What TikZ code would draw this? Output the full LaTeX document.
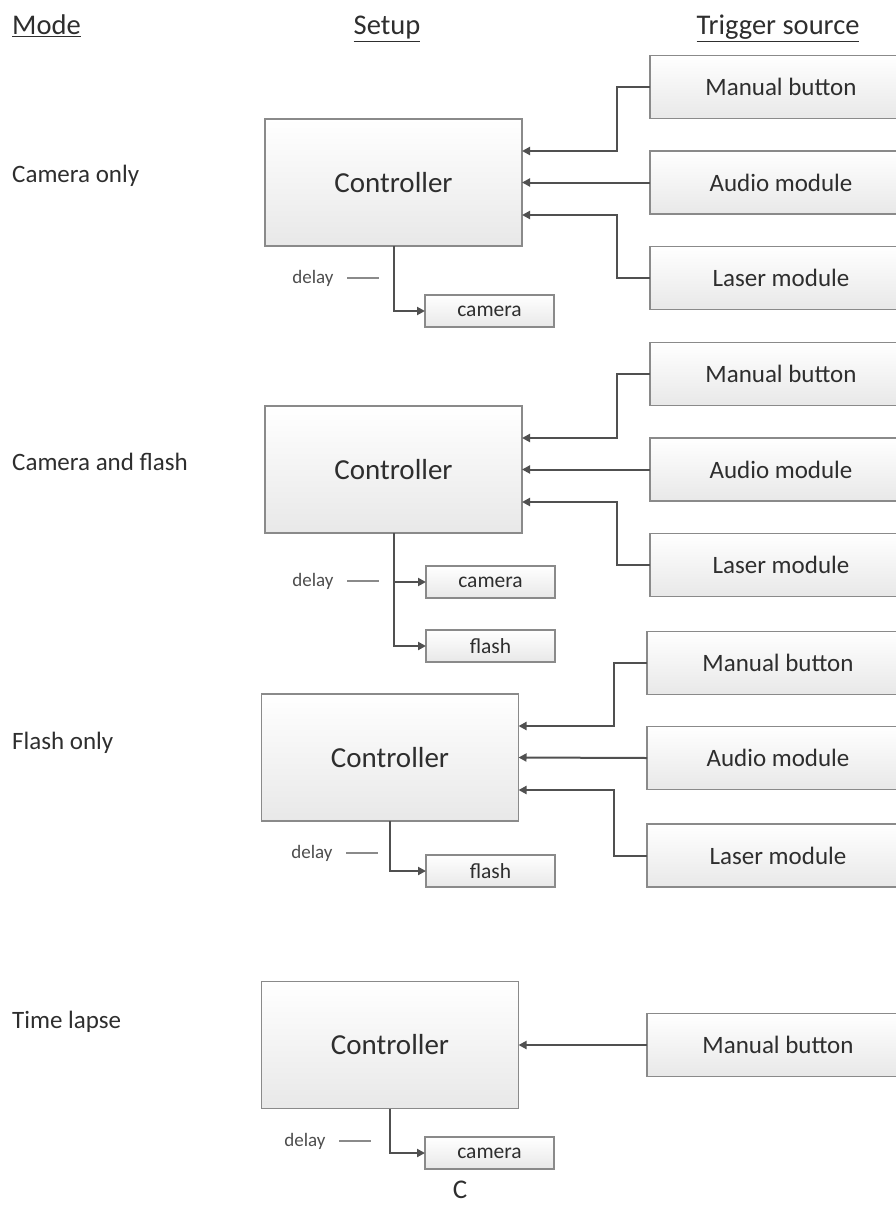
\documentclass[tikz,border=0pt]{standalone}
\usepackage{fontspec}
\setmainfont{Carlito}
\usetikzlibrary{arrows.meta,calc}
\definecolor{txt}{HTML}{2E2E2E}
\definecolor{edge}{HTML}{8A8A8A}
\definecolor{wire}{HTML}{505050}
\tikzset{
  every node/.style={text=txt},
  ctrlbox/.style={draw=edge, line width=1.2pt, top color=white, bottom color=black!9,
    minimum width=257pt, minimum height=127pt, inner sep=0pt, outer sep=0pt, font=\fontsize{29}{32}\selectfont},
  trigbox/.style={draw=edge, line width=1.2pt, top color=white, bottom color=black!9,
    minimum width=262pt, minimum height=63pt, inner sep=0pt, outer sep=0pt, anchor=west,
    font=\fontsize{25}{29}\selectfont},
  outbox/.style={draw=edge, line width=1.2pt, top color=white, bottom color=black!9,
    minimum width=129pt, minimum height=32pt, inner sep=0pt, outer sep=0pt, anchor=west,
    font=\fontsize{21.5}{24}\selectfont},
  modelbl/.style={anchor=base west, inner sep=0pt, font=\fontsize{25}{28}\selectfont},
  headlbl/.style={anchor=base, inner sep=0pt, font=\fontsize{28.5}{31}\selectfont},
  delaylbl/.style={font=\fontsize{19}{22}\selectfont, text=txt!85},
  conn/.style={draw=wire, line width=2pt, -{Triangle[length=8pt,width=8pt]}},
  dashl/.style={draw=edge, line width=1.2pt},
}
\begin{document}
\begin{tikzpicture}[x=1pt,y=-1pt]
\useasboundingbox (0,0) rectangle (896,1207);
\clip (0,0) rectangle (896,1207);
% headers
\node[headlbl, anchor=base west] (hmode) at (12,35) {\underline{Mode}};
\node[headlbl] (hsetup) at (387,35) {\underline{Setup}};
\node[headlbl] (htrig) at (778,35) {\underline{Trigger source}};
% mode labels
\node[modelbl] (mode1) at (12,182) {Camera only};
\node[modelbl] (mode2) at (12,470) {Camera and flash};
\node[modelbl] (mode3) at (12,749) {Flash only};
\node[modelbl] (mode4) at (12,1028) {Time lapse};

% ---------- Section 1 ----------
\node[ctrlbox] (c1) at (393.5,182.5) {Controller};
\node[trigbox] (m1) at (650,87) {Manual button};
\node[trigbox] (a1) at (650,182.5) {Audio module};
\node[trigbox] (l1) at (650,278) {Laser module};
\draw[conn] (m1.west) -- ++(-33,0) |- ([yshift=31.5pt]c1.east);
\draw[conn] (a1.west) -- (c1.east);
\draw[conn] (l1.west) -- ++(-33,0) |- ([yshift=-32.5pt]c1.east);
\node[outbox] (o1) at (425,311) {camera};
\draw[conn] (c1.south) |- (o1.west);
\node[delaylbl] (d1) at (313,278) {delay};
\draw[dashl] ([xshift=10pt]d1.east) -- ++(32,0);

% ---------- Section 2 ----------
\node[ctrlbox] (c2) at (393.5,469.5) {Controller};
\node[trigbox] (m2) at (650,374) {Manual button};
\node[trigbox] (a2) at (650,469.5) {Audio module};
\node[trigbox] (l2) at (650,565) {Laser module};
\draw[conn] (m2.west) -- ++(-33,0) |- ([yshift=31.5pt]c2.east);
\draw[conn] (a2.west) -- (c2.east);
\draw[conn] (l2.west) -- ++(-33,0) |- ([yshift=-32.5pt]c2.east);
\node[outbox] (o2a) at (426,582) {camera};
\node[outbox] (o2b) at (426,646) {flash};
\draw[conn] (c2.south) |- (o2a.west);
\draw[conn] (c2.south) |- (o2b.west);
\node[delaylbl] (d2) at (313,581) {delay};
\draw[dashl] ([xshift=10pt]d2.east) -- ++(32,0);

% ---------- Section 3 ----------
\node[ctrlbox] (c3) at (390,757.5) {Controller};
\node[trigbox] (m3) at (647,663) {Manual button};
\node[trigbox] (a3) at (647,758) {Audio module};
\node[trigbox] (l3) at (647,855.5) {Laser module};
\draw[conn] (m3.west) -- ++(-33,0) |- ([yshift=31.5pt]c3.east);
\draw[conn] (a3.west) -- (c3.east);
\draw[conn] (l3.west) -- ++(-33,0) |- ([yshift=-32.5pt]c3.east);
\node[outbox] (o3) at (426,871) {flash};
\draw[conn] (c3.south) |- (o3.west);
\node[delaylbl] (d3) at (312,853) {delay};
\draw[dashl] ([xshift=10pt]d3.east) -- ++(32,0);

% ---------- Section 4 ----------
\node[ctrlbox] (c4) at (390,1045) {Controller};
\node[trigbox] (m4) at (647,1045) {Manual button};
\draw[conn] (m4.west) -- (c4.east);
\node[outbox] (o4) at (425,1153) {camera};
\draw[conn] (c4.south) |- (o4.west);
\node[delaylbl] (d4) at (305,1141) {delay};
\draw[dashl] ([xshift=10pt]d4.east) -- ++(32,0);

\node[font=\fontsize{27}{30}\selectfont, inner sep=0pt] (cap) at (460,1190) {C};
\end{tikzpicture}
\end{document}
